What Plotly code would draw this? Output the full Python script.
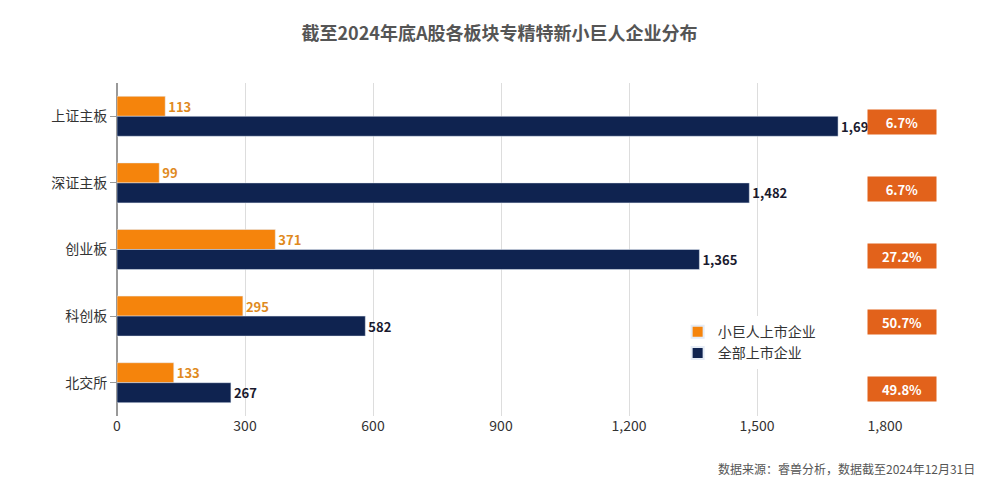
import plotly.graph_objects as go

boards = ['上证主板', '深证主板', '创业板', '科创板', '北交所']
little_giants = [113, 99, 371, 295, 133]
all_listed = [1690, 1482, 1365, 582, 267]
x_ticks = [0, 300, 600, 900, 1200, 1500, 1800]

orange = '#F5840C'
navy = '#0F2350'

fig = go.Figure()
fig.add_trace(go.Bar(y=boards, x=little_giants, orientation='h', name='小巨人上市企业',
                     marker_color=orange, text=[f'<b>{v:,}</b>' for v in little_giants],
                     textposition='outside', textfont=dict(color='#E08A1E', size=13, family='Noto Sans CJK SC'),
                     cliponaxis=False))
fig.add_trace(go.Bar(y=boards, x=all_listed, orientation='h', name='全部上市企业',
                     marker_color=navy, text=[f'<b>{v:,}</b>' for v in all_listed],
                     textposition='outside', textfont=dict(color='#1a1a2e', size=13, family='Noto Sans CJK SC'),
                     cliponaxis=False))

# ratio badges on the right
for b, s, t in zip(boards, little_giants, all_listed):
    fig.add_annotation(x=1.068, xref='paper', y=b, yref='y', yshift=-6, text=f'<b>{s / t * 100:.1f}%</b>',
                       showarrow=False, bgcolor='#E2621B', font=dict(color='white', size=13),
                       width=64, height=20, borderpad=2)

fig.add_annotation(x=1.12, xref='paper', y=-0.19, yref='paper', xanchor='right', showarrow=False,
                   text='数据来源：睿兽分析，数据截至2024年12月31日', font=dict(size=12, color='#555'))

fig.update_layout(
    title=dict(text='<b>截至2024年底A股各板块专精特新小巨人企业分布</b>', x=0.5, y=0.96,
               font=dict(size=18, color='#555')),
    width=983, height=481, margin=dict(l=109, r=106, t=75, b=73, autoexpand=False),
    plot_bgcolor='white', paper_bgcolor='white',
    barmode='group', bargap=0.4, bargroupgap=0,
    font=dict(family='Noto Sans CJK SC', size=14, color='#333'),
    legend=dict(x=0.73, y=0.3, xanchor='left', yanchor='top', font=dict(size=14),
                traceorder='normal', itemsizing='constant', tracegroupgap=14),
    showlegend=True,
)
fig.update_xaxes(range=[0, 1800], tickvals=x_ticks, tickformat=',', showgrid=True,
                 gridcolor='#DDDDDD', zeroline=True, zerolinecolor='#999', ticks='',
                 tickfont=dict(size=14, color='#333'), automargin=False)
fig.update_yaxes(autorange='reversed', ticks='outside', ticklen=6, tickcolor='#999',
                 showline=True, linecolor='#999', tickfont=dict(size=14), automargin=False)

fig.write_html('out.html')
